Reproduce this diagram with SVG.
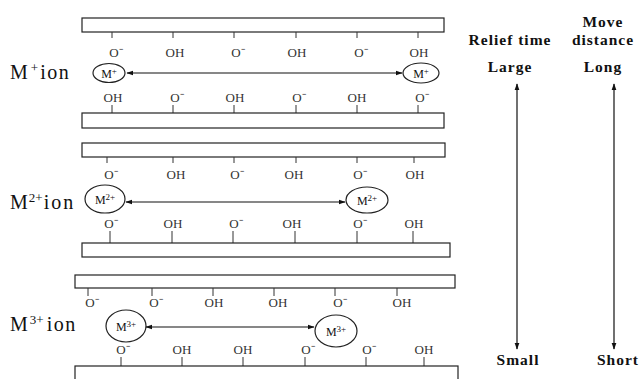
<svg xmlns="http://www.w3.org/2000/svg" width="641" height="379" viewBox="0 0 641 379">
<style>
.bar{fill:#fff;stroke:#222;stroke-width:1.2}
.tick{stroke:#333;stroke-width:1}
.lbl{font-family:"Liberation Serif","Times New Roman",serif;font-size:13px;fill:#333;text-anchor:middle}
.ion{font-family:"Liberation Serif","Times New Roman",serif;font-size:20px;fill:#111}
.ell{fill:#fff;stroke:#222;stroke-width:1.2}
.el{font-family:"Liberation Serif","Times New Roman",serif;font-size:12px;fill:#111;text-anchor:middle}
.hd{font-family:"Liberation Serif","Times New Roman",serif;font-size:15.5px;font-weight:bold;fill:#111;text-anchor:middle;letter-spacing:1px}
.arr{stroke:#111;stroke-width:1.2;fill:none;marker-start:url(#ah);marker-end:url(#ah)}
</style>
<defs>
<marker id="ah" viewBox="0 0 10 10" refX="9" refY="5" markerWidth="7" markerHeight="7" orient="auto-start-reverse" markerUnits="userSpaceOnUse">
<path d="M0,1.5 L10,5 L0,8.5 Z" fill="#111"/>
</marker>
</defs>
<rect width="641" height="379" fill="#fff"/>

<g id="layer1">
<rect class="bar" x="82" y="18" width="362" height="14"/>
<path class="tick" d="M112,32V38M173,32V38M234,32V38M296,32V38M357,32V38M418,32V38"/>
<text class="lbl" y="57"><tspan x="116">O⁻</tspan><tspan x="175">OH</tspan><tspan x="238">O⁻</tspan><tspan x="297">OH</tspan><tspan x="361">O⁻</tspan><tspan x="419">OH</tspan></text>
<text class="lbl" y="102"><tspan x="113">OH</tspan><tspan x="177">O⁻</tspan><tspan x="235">OH</tspan><tspan x="299">O⁻</tspan><tspan x="357">OH</tspan><tspan x="422">O⁻</tspan></text>
<path class="tick" d="M112,105V113M173,105V113M234,105V113M296,105V113M357,105V113M418,105V113"/>
<rect class="bar" x="82" y="113" width="362" height="15"/>
</g>
<g id="label1"><text class="ion" x="10" y="79">M<tspan font-size="13" dy="-7" dx="3">+</tspan><tspan dy="7" dx="2" letter-spacing="1.5">ion</tspan></text></g>
<g id="m1a"><ellipse class="ell" cx="109" cy="73" rx="16" ry="9.5"/><text class="el" x="109" y="77.5">M<tspan font-size="9" dy="-4">+</tspan></text></g>
<g id="m1b"><ellipse class="ell" cx="421" cy="73" rx="18" ry="10"/><text class="el" x="421" y="77.5">M<tspan font-size="9" dy="-4">+</tspan></text></g>

<g id="layer2">
<rect class="bar" x="82" y="143" width="363" height="14"/>
<path class="tick" d="M107,157V163M173,157V163M234,157V163M296,157V163M357,157V163M414,157V163"/>
<text class="lbl" y="179"><tspan x="111">O⁻</tspan><tspan x="176">OH</tspan><tspan x="237">O⁻</tspan><tspan x="294">OH</tspan><tspan x="360">O⁻</tspan><tspan x="415">OH</tspan></text>
<text class="lbl" y="228"><tspan x="111">O⁻</tspan><tspan x="173">OH</tspan><tspan x="236">O⁻</tspan><tspan x="292">OH</tspan><tspan x="360">O⁻</tspan><tspan x="414">OH</tspan></text>
<path class="tick" d="M110,231V243M172,231V243M233,231V243M295,231V243M357,231V243M413,231V243"/>
<rect class="bar" x="82" y="243" width="368" height="14"/>
</g>
<g id="label2"><text class="ion" x="10" y="209">M<tspan font-size="13" dy="-7" dx="1">2+</tspan><tspan dy="7" dx="1" letter-spacing="2">ion</tspan></text></g>
<g id="m2a"><ellipse class="ell" cx="105" cy="199" rx="20" ry="14"/><text class="el" x="105" y="203.5">M<tspan font-size="9" dy="-4">2+</tspan></text></g>
<g id="m2b"><ellipse class="ell" cx="367" cy="200" rx="21" ry="13"/><text class="el" x="367" y="204.5">M<tspan font-size="9" dy="-4">2+</tspan></text></g>

<g id="layer3">
<rect class="bar" x="75" y="275" width="380" height="13"/>
<path class="tick" d="M88,288V296M152,288V296M213,288V296M274,288V296M335,288V296M397,288V296"/>
<text class="lbl" y="307"><tspan x="92">O⁻</tspan><tspan x="156">O⁻</tspan><tspan x="214">OH</tspan><tspan x="278">OH</tspan><tspan x="340">O⁻</tspan><tspan x="402">OH</tspan></text>
<text class="lbl" y="354"><tspan x="123">O⁻</tspan><tspan x="182">OH</tspan><tspan x="243">OH</tspan><tspan x="308">O⁻</tspan><tspan x="369">O⁻</tspan><tspan x="424">OH</tspan></text>
<path class="tick" d="M121,357V366M182,357V366M243,357V366M305,357V366M366,357V366M424,357V366"/>
<rect class="bar" x="75" y="366" width="383" height="20"/>
</g>
<g id="label3"><text class="ion" x="10" y="331">M<tspan font-size="13" dy="-7" dx="2">3+</tspan><tspan dy="7" dx="3" letter-spacing="1.5">ion</tspan></text></g>
<g id="m3a"><ellipse class="ell" cx="126" cy="326" rx="20" ry="16"/><text class="el" x="126" y="330.5">M<tspan font-size="9" dy="-4">3+</tspan></text></g>
<g id="m3b"><ellipse class="ell" cx="336" cy="331" rx="21" ry="16"/><text class="el" x="336" y="335.5">M<tspan font-size="9" dy="-4">3+</tspan></text></g>

<g id="relief">
<text class="hd" x="510" y="45">Relief time</text>
<text class="hd" x="510" y="72">Large</text>
<text class="hd" x="518" y="365">Small</text>
</g>
<g id="move">
<text class="hd" x="603" y="27">Move</text>
<text class="hd" x="603" y="45">distance</text>
<text class="hd" x="603" y="72">Long</text>
<text class="hd" x="618" y="365">Short</text>
</g>

<g id="connectors">
<line class="arr" x1="127" y1="73" x2="402" y2="73"/>
<line class="arr" x1="126" y1="202" x2="345" y2="202"/>
<line class="arr" x1="146" y1="327" x2="314" y2="327"/>
<line class="arr" x1="517" y1="84" x2="517" y2="349"/>
<line class="arr" x1="614" y1="84" x2="614" y2="349"/>
</g>
</svg>
